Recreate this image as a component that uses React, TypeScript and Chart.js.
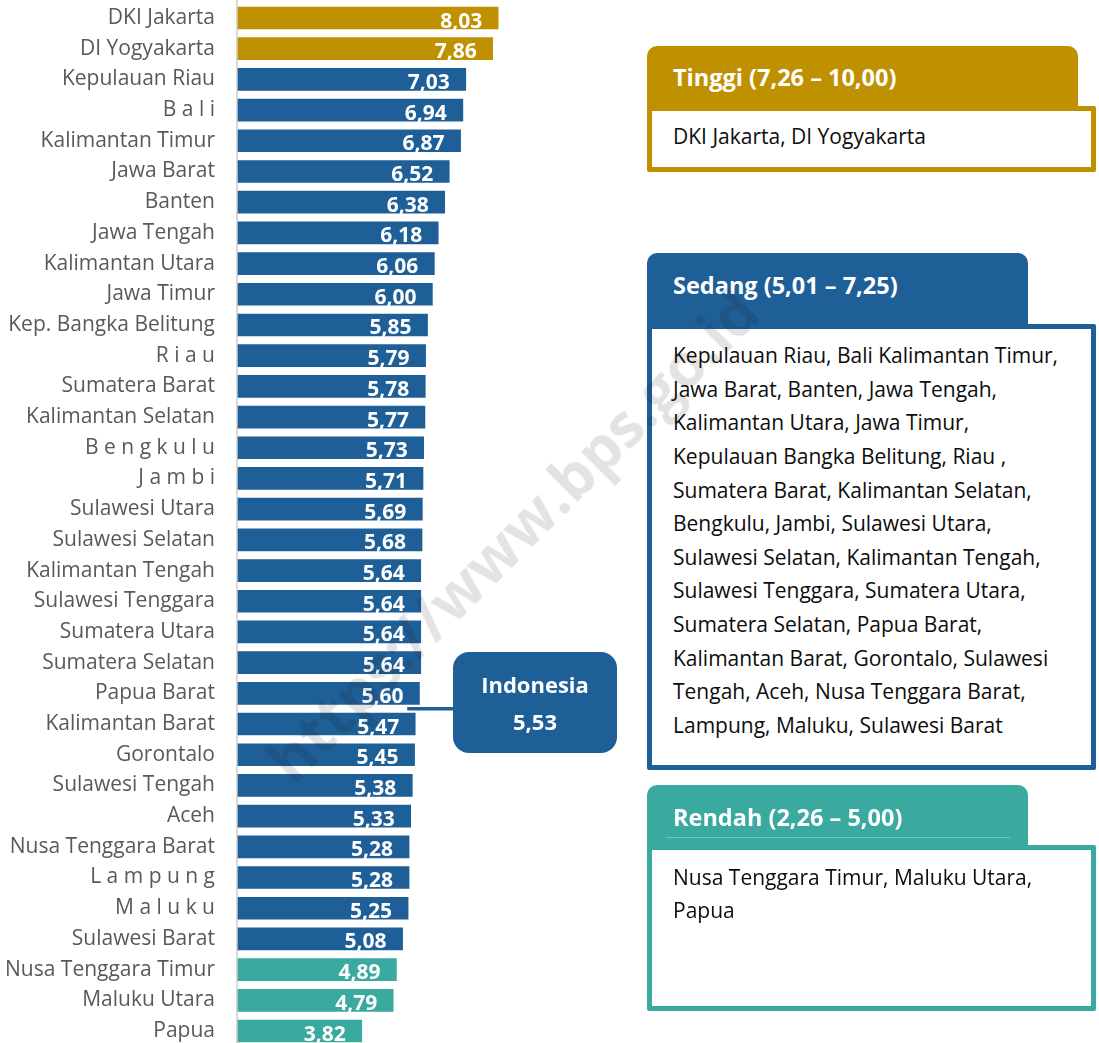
import React, { useEffect, useRef } from "react";
import { Chart, registerables } from "chart.js";

Chart.register(...registerables);

const provinces = [
  "DKI Jakarta", "DI Yogyakarta", "Kepulauan Riau", "B a l i", "Kalimantan Timur",
  "Jawa Barat", "Banten", "Jawa Tengah", "Kalimantan Utara", "Jawa Timur",
  "Kep. Bangka Belitung", "R i a u", "Sumatera Barat", "Kalimantan Selatan", "B e n g k u l u",
  "J a m b i", "Sulawesi Utara", "Sulawesi Selatan", "Kalimantan Tengah", "Sulawesi Tenggara",
  "Sumatera Utara", "Sumatera Selatan", "Papua Barat", "Kalimantan Barat", "Gorontalo",
  "Sulawesi Tengah", "Aceh", "Nusa Tenggara Barat", "L a m p u n g", "M a l u k u",
  "Sulawesi Barat", "Nusa Tenggara Timur", "Maluku Utara", "Papua",
];

const values = [
  8.03, 7.86, 7.03, 6.94, 6.87,
  6.52, 6.38, 6.18, 6.06, 6.0,
  5.85, 5.79, 5.78, 5.77, 5.73,
  5.71, 5.69, 5.68, 5.64, 5.64,
  5.64, 5.64, 5.6, 5.47, 5.45,
  5.38, 5.33, 5.28, 5.28, 5.25,
  5.08, 4.89, 4.79, 3.82,
];

const INDONESIA = 5.53;
const HIGH_MIN = 7.26;
const MID_MIN = 5.01;

const GOLD = "#BF9000";
const BLUE = "#1F5F97";
const TEAL = "#3AA99F";

const tinggiTitle = "Tinggi (7,26 – 10,00)";
const tinggiLines = ["DKI Jakarta, DI Yogyakarta"];
const sedangTitle = "Sedang (5,01 – 7,25)";
const sedangLines = [
  "Kepulauan Riau, Bali Kalimantan Timur,",
  "Jawa Barat, Banten, Jawa Tengah,",
  "Kalimantan Utara, Jawa Timur,",
  "Kepulauan Bangka Belitung, Riau ,",
  "Sumatera Barat, Kalimantan Selatan,",
  "Bengkulu, Jambi, Sulawesi Utara,",
  "Sulawesi Selatan, Kalimantan Tengah,",
  "Sulawesi Tenggara, Sumatera Utara,",
  "Sumatera Selatan, Papua Barat,",
  "Kalimantan Barat, Gorontalo, Sulawesi",
  "Tengah, Aceh, Nusa Tenggara Barat,",
  "Lampung, Maluku, Sulawesi Barat",
];
const rendahTitle = "Rendah (2,26 – 5,00)";
const rendahLines = ["Nusa Tenggara Timur, Maluku Utara,", "Papua"];

const fmt = (v: number) => v.toFixed(2).replace(".", ",");
const colorFor = (v: number) => (v >= HIGH_MIN ? GOLD : v >= MID_MIN ? BLUE : TEAL);

const FONT = '"Open Sans", "Noto Sans", sans-serif';

const axisLinePlugin = {
  id: "axisLine",
  beforeDatasetsDraw(chart: any) {
    const { ctx } = chart;
    const x = chart.scales.x.getPixelForValue(0) - 1;
    ctx.save();
    ctx.strokeStyle = "#D9D9D9";
    ctx.lineWidth = 2;
    ctx.beginPath();
    ctx.moveTo(x, 0);
    ctx.lineTo(x, chart.height);
    ctx.stroke();
    ctx.restore();
  },
};

const valueLabelPlugin = {
  id: "valueLabels",
  afterDatasetsDraw(chart: any) {
    const { ctx } = chart;
    const meta = chart.getDatasetMeta(0);
    ctx.save();
    ctx.font = `bold 21px ${FONT}`;
    ctx.fillStyle = "#FFFFFF";
    ctx.textAlign = "right";
    ctx.textBaseline = "alphabetic";
    meta.data.forEach((bar: any, i: number) => {
      ctx.fillText(fmt(values[i]), bar.x - 16, bar.y + 9.5);
    });
    ctx.restore();
  },
};

const connectorPlugin = {
  id: "connector",
  afterDatasetsDraw(chart: any) {
    const { ctx } = chart;
    const yScale = chart.scales.y;
    const xScale = chart.scales.x;
    const idx = values.findIndex((v) => v < INDONESIA);
    if (idx <= 0) return;
    const y = (yScale.getPixelForValue(idx - 1) + yScale.getPixelForValue(idx)) / 2;
    const x0 = xScale.getPixelForValue(INDONESIA) - 10;
    ctx.save();
    ctx.strokeStyle = BLUE;
    ctx.lineWidth = 3.5;
    ctx.beginPath();
    ctx.moveTo(x0, y);
    ctx.lineTo(456, y);
    ctx.stroke();
    ctx.restore();
  },
};

function LegendBox(props: {
  color: string;
  title: string;
  lines: string[];
  headTop: number;
  headWidth: number;
  headHeight: number;
  titleCenter: number;
  bodyTop: number;
  bodyHeight: number;
  firstLine: number;
  lineHeight: number;
  inner?: boolean;
}) {
  const p = props;
  return (
    <>
      <div
        style={{
          position: "absolute",
          left: 647,
          top: p.headTop,
          width: p.headWidth,
          height: p.headHeight,
          background: p.color,
          borderRadius: "10px 10px 0 0",
        }}
      />
      {p.inner ? (
        <div
          style={{
            position: "absolute",
            left: 666,
            top: p.headTop + 16,
            width: 344,
            height: 36,
            borderBottom: "1px solid rgba(255,255,255,0.3)",
          }}
        />
      ) : null}
      <div
        style={{
          position: "absolute",
          left: 673,
          top: p.titleCenter - 16,
          height: 32,
          lineHeight: "32px",
          color: "#FFFFFF",
          fontFamily: FONT,
          fontWeight: 700,
          fontSize: 23.5,
          whiteSpace: "nowrap",
        }}
      >
        {p.title}
      </div>
      <div
        style={{
          position: "absolute",
          left: 647,
          top: p.bodyTop,
          width: 449,
          height: p.bodyHeight,
          boxSizing: "border-box",
          border: `5px solid ${p.color}`,
          borderRadius: 2,
          background: "#FFFFFF",
        }}
      />
      <div
        style={{
          position: "absolute",
          left: 673,
          top: p.firstLine - p.lineHeight / 2,
          lineHeight: `${p.lineHeight}px`,
          color: "#0D0D0D",
          fontFamily: FONT,
          fontSize: 21,
          whiteSpace: "nowrap",
        }}
      >
        {p.lines.map((l, i) => (
          <div key={i}>{l}</div>
        ))}
      </div>
    </>
  );
}

export default function App() {
  const canvasRef = useRef<HTMLCanvasElement | null>(null);

  useEffect(() => {
    if (!canvasRef.current) return;
    const chart = new Chart(canvasRef.current, {
      type: "bar",
      data: {
        labels: provinces,
        datasets: [
          {
            data: values,
            backgroundColor: values.map(colorFor),
            barThickness: 22,
            clip: false as any,
          },
        ],
      },
      options: {
        indexAxis: "y",
        animation: false,
        responsive: false,
        maintainAspectRatio: false,
        layout: { padding: { top: 18, bottom: 12, left: 0, right: 537 } },
        plugins: {
          legend: { display: false },
          tooltip: { enabled: false },
        },
        scales: {
          x: {
            display: false,
            min: 0,
            max: 10,
          },
          y: {
            type: "category",
            offset: false,
            grid: { display: false, drawTicks: false },
            border: { display: false },
            ticks: {
              autoSkip: false,
              color: "#595959",
              padding: 23,
              font: { family: FONT, size: 21 },
            },
            afterFit: (scale: any) => {
              scale.width = 238;
              scale.paddingTop = 0;
              scale.paddingBottom = 0;
            },
          },
        },
      },
      plugins: [axisLinePlugin, valueLabelPlugin, connectorPlugin],
    });
    return () => chart.destroy();
  }, []);

  return (
    <div
      style={{
        position: "absolute",
        left: 0,
        top: 0,
        width: 1099,
        height: 1043,
        overflow: "hidden",
        background: "#FFFFFF",
      }}
    >
      <canvas
        ref={canvasRef}
        width={1099}
        height={1043}
        style={{ position: "absolute", left: 0, top: 0, width: 1099, height: 1043, display: "block" }}
      />
      <div
        style={{
          position: "absolute",
          left: 453,
          top: 652,
          width: 164,
          height: 101,
          borderRadius: 16,
          background: BLUE,
          color: "#FFFFFF",
          fontFamily: FONT,
          fontWeight: 700,
          fontSize: 22,
          textAlign: "center",
        }}
      >
        <div style={{ position: "absolute", left: 0, right: 0, top: 17, lineHeight: "30px" }}>Indonesia</div>
        <div style={{ position: "absolute", left: 0, right: 0, top: 54, lineHeight: "30px" }}>{fmt(INDONESIA)}</div>
      </div>
      <LegendBox
        color={GOLD}
        title={tinggiTitle}
        lines={tinggiLines}
        headTop={46}
        headWidth={431}
        headHeight={64}
        titleCenter={77}
        bodyTop={106}
        bodyHeight={66}
        firstLine={137}
        lineHeight={33.6}
      />
      <LegendBox
        color={BLUE}
        title={sedangTitle}
        lines={sedangLines}
        headTop={253}
        headWidth={381}
        headHeight={75}
        titleCenter={285}
        bodyTop={324}
        bodyHeight={446}
        firstLine={356}
        lineHeight={33.6}
      />
      <LegendBox
        color={TEAL}
        title={rendahTitle}
        lines={rendahLines}
        headTop={785}
        headWidth={381}
        headHeight={64}
        titleCenter={817}
        bodyTop={845}
        bodyHeight={166}
        firstLine={877}
        lineHeight={33}
        inner
      />
      <div
        style={{
          position: "absolute",
          left: 512,
          top: 535,
          transform: "translate(-50%, -50%) rotate(-45deg)",
          fontFamily: FONT,
          fontWeight: 700,
          fontSize: 60,
          color: "rgba(0,0,0,0.11)",
          whiteSpace: "nowrap",
          pointerEvents: "none",
          lineHeight: "62px",
        }}
      >
        https://www.bps.go.id
      </div>
    </div>
  );
}
